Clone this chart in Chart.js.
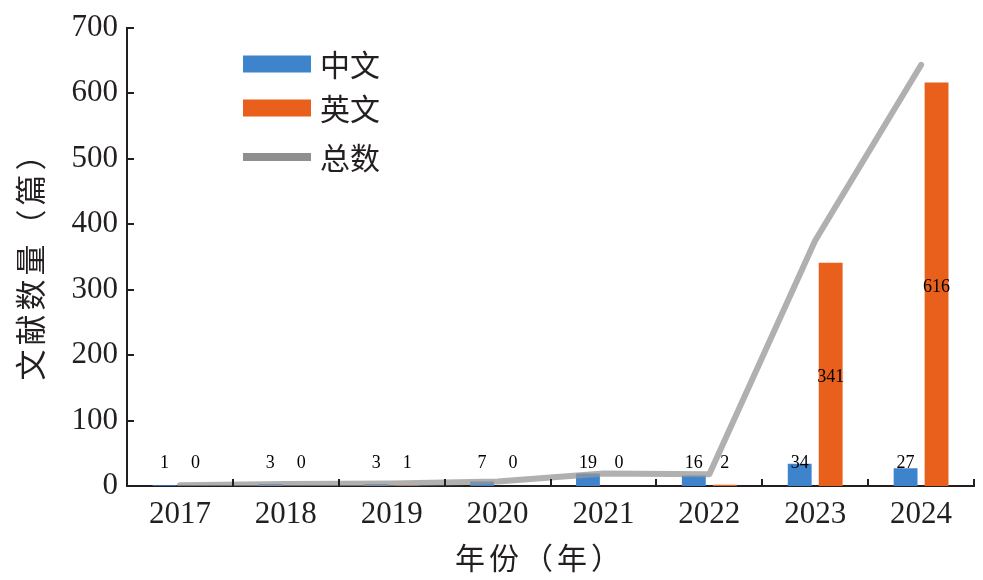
<!DOCTYPE html>
<html>
<head>
<meta charset="utf-8">
<script src="https://cdn.jsdelivr.net/npm/chart.js@4/dist/chart.umd.min.js"></script>
<style>
  html, body { margin: 0; padding: 0; background: #fff; }
  #wrap { width: 983px; height: 580px; }
</style>
</head>
<body>
<div id="wrap"><canvas id="chart" width="983" height="580"></canvas></div>
<script>
const years = ['2017', '2018', '2019', '2020', '2021', '2022', '2023', '2024'];
const chineseCounts = [1, 3, 3, 7, 19, 16, 34, 27];
const englishCounts = [0, 0, 1, 0, 0, 2, 341, 616];
const totalCounts = [1, 3, 4, 7, 19, 18, 375, 643];
const yTicks = [0, 100, 200, 300, 400, 500, 600, 700];

const SERIF = '"Liberation Serif", "Times New Roman", serif';
const CJK = '"Noto Sans CJK SC", sans-serif';
const INK = '#231f20';

// axis ticks point inward, labels, legend and titles drawn by hand
const decorations = {
    id: 'decorations',
    afterDatasetsDraw(chart) {
        const ctx = chart.ctx;
        const area = chart.chartArea;
        const y = chart.scales.y;

        ctx.save();
        ctx.strokeStyle = INK;
        ctx.lineWidth = 2;
        ctx.beginPath();
        yTicks.forEach(v => {
            const py = Math.round(y.getPixelForValue(v));
            ctx.moveTo(area.left, py);
            ctx.lineTo(area.left + 7, py);
        });
        for (let i = 1; i <= years.length; i++) {
            const px = Math.round(area.left + i * (area.right - area.left) / years.length);
            ctx.moveTo(px, area.bottom);
            ctx.lineTo(px, area.bottom - 7);
        }
        ctx.stroke();

        // value labels
        ctx.fillStyle = '#000';
        ctx.font = '18px ' + SERIF;
        ctx.textAlign = 'center';
        ctx.textBaseline = 'middle';
        const lowY = y.getPixelForValue(35);
        [0, 1].forEach(di => {
            const meta = chart.getDatasetMeta(di);
            const vals = chart.data.datasets[di].data;
            meta.data.forEach((bar, i) => {
                const v = vals[i];
                let ly = lowY;
                if (v > 100) ly = (bar.y + bar.base) / 2 + 3;
                ctx.fillText(String(v), bar.x, ly);
            });
        });

        // legend
        const items = [
            { label: chart.data.datasets[0].label, color: '#3e84cd', h: 17, y: 64 },
            { label: chart.data.datasets[1].label, color: '#e8601c', h: 17, y: 108 },
            { label: chart.data.datasets[2].label, color: '#8f8f8f', h: 8, y: 157 }
        ];
        ctx.font = '30px ' + CJK;
        ctx.textAlign = 'left';
        items.forEach(it => {
            ctx.fillStyle = it.color;
            ctx.fillRect(243, it.y - it.h / 2, 68, it.h);
            ctx.fillStyle = INK;
            ctx.fillText(it.label, 320, it.y + 1);
        });

        // axis titles
        ctx.font = '30px ' + CJK;
        ctx.textAlign = 'center';
        ctx.letterSpacing = '4px';
        ctx.fillText('年份（年）', 540, 558);
        ctx.translate(30, 258);
        ctx.rotate(-Math.PI / 2);
        ctx.font = '31px ' + CJK;
        ctx.fillText('文献数量（篇）', 0, 0);
        ctx.restore();
    }
};

new Chart(document.getElementById('chart'), {
    type: 'bar',
    data: {
        labels: years,
        datasets: [
            {
                label: '中文',
                data: chineseCounts,
                backgroundColor: '#3e84cd',
                categoryPercentage: 0.585,
                barPercentage: 0.77,
                order: 2
            },
            {
                label: '英文',
                data: englishCounts,
                backgroundColor: '#e8601c',
                categoryPercentage: 0.585,
                barPercentage: 0.77,
                order: 2
            },
            {
                type: 'line',
                label: '总数',
                data: totalCounts,
                borderColor: 'rgba(150,150,150,0.75)',
                borderWidth: 6,
                borderCapStyle: 'round',
                borderJoinStyle: 'round',
                pointRadius: 0,
                tension: 0,
                order: 1
            }
        ]
    },
    options: {
        responsive: false,
        animation: false,
        layout: { padding: { top: 24, right: 9, left: 0, bottom: 0 } },
        plugins: {
            legend: { display: false },
            tooltip: { enabled: false }
        },
        scales: {
            x: {
                offset: true,
                grid: { display: false, drawTicks: false },
                border: { display: true, color: INK, width: 2 },
                ticks: {
                    color: INK,
                    font: { family: SERIF, size: 31 },
                    padding: 10,
                    maxRotation: 0
                },
                afterFit(scale) { scale.height = 94; }
            },
            y: {
                min: 0,
                max: 700,
                grid: { display: false, drawTicks: false },
                border: { display: true, color: INK, width: 2 },
                ticks: {
                    stepSize: 100,
                    color: INK,
                    font: { family: SERIF, size: 31 },
                    padding: 9
                },
                afterFit(scale) { scale.width = 127; }
            }
        }
    },
    plugins: [decorations]
});
</script>
</body>
</html>
